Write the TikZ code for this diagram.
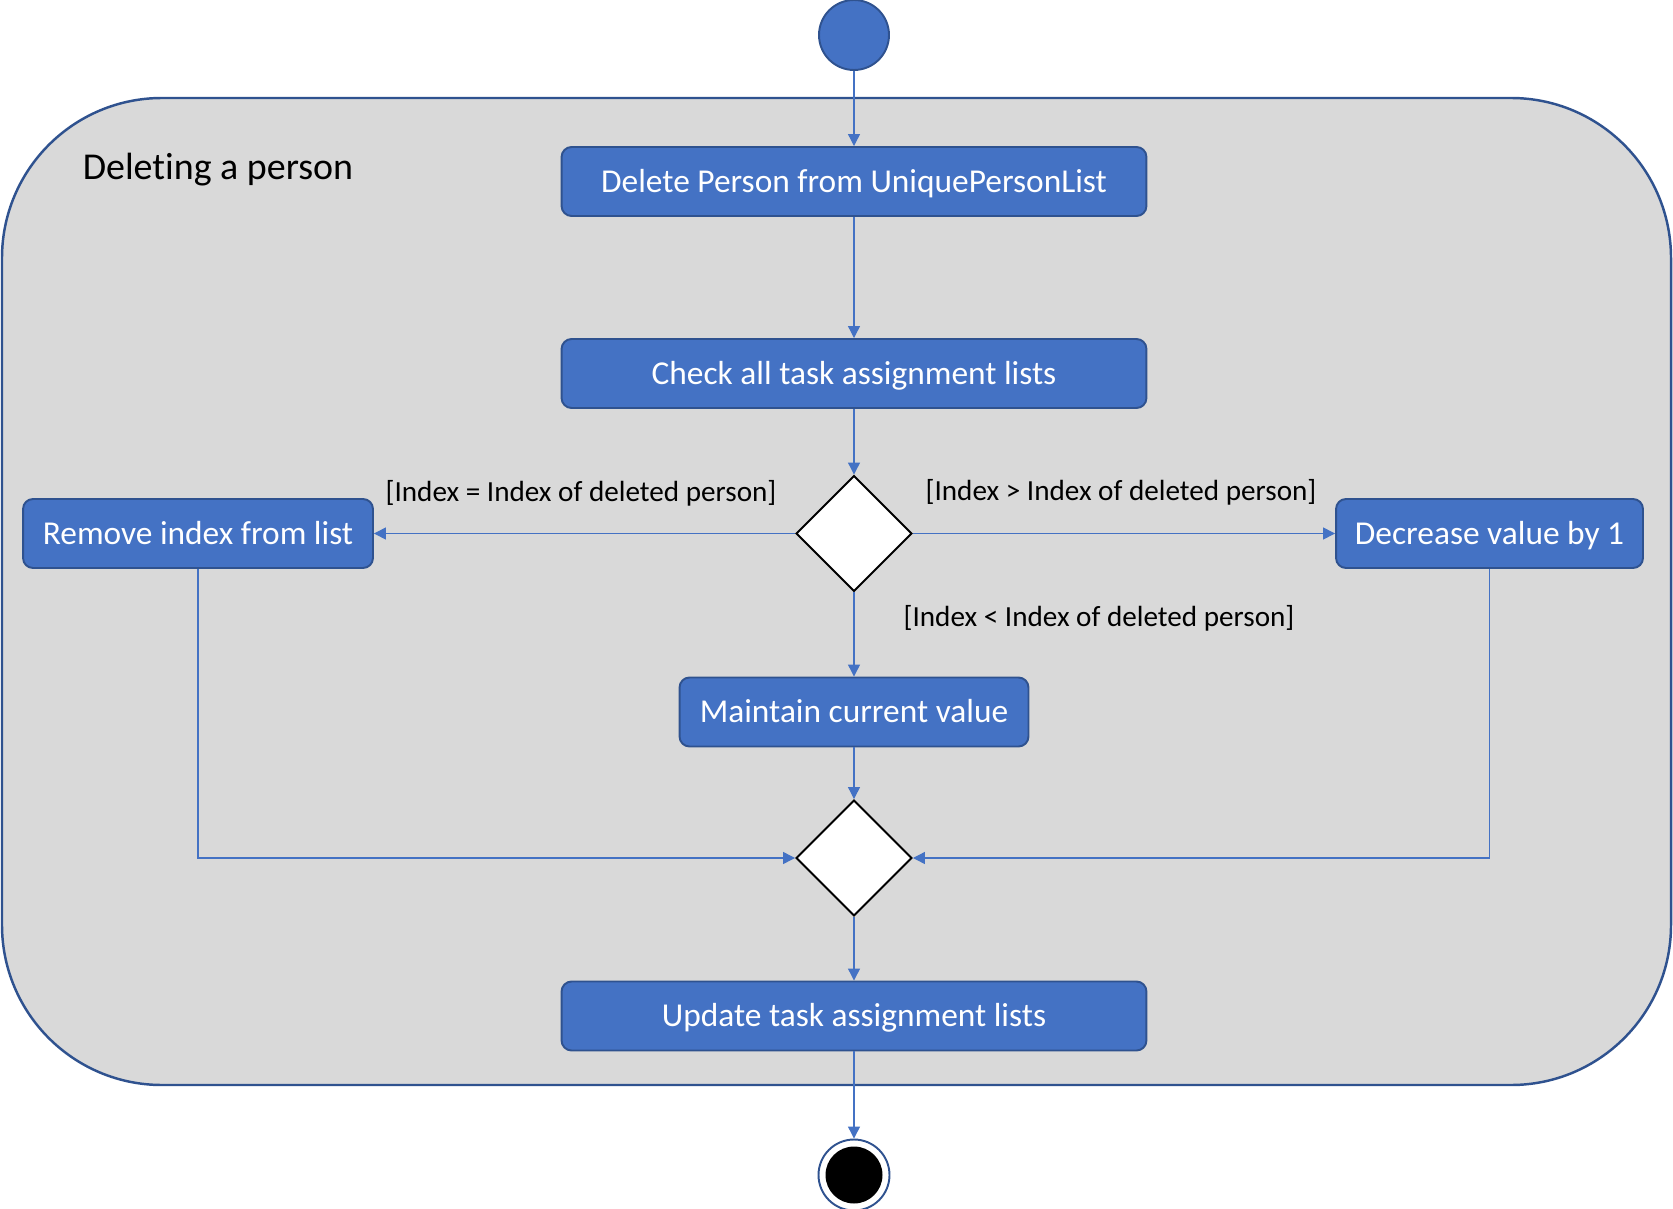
\documentclass[tikz,border=0pt]{standalone}
\usepackage{fontspec}
\setmainfont{Carlito}[Ligatures=NoCommon]
\usetikzlibrary{shapes.geometric,arrows.meta}
\definecolor{actblue}{HTML}{4472C4}
\definecolor{actedge}{HTML}{2F528F}
\definecolor{lanegray}{HTML}{D9D9D9}
\begin{document}
\begin{tikzpicture}[x=0.02cm,y=-0.02cm,
	action/.style={draw=actedge,fill=actblue,text=white,rounded corners=0.2cm,line width=1.1pt,minimum height=1.38cm,text depth=0.1em,font=\fontsize{19}{23}\selectfont},
	decision/.style={draw,diamond,fill=white,line width=1.1pt,minimum size=2.32cm,inner sep=0pt},
	flow/.style={actblue,line width=0.7pt,-{Triangle[length=6.8pt,width=6.8pt]}},
	guard/.style={font=\fontsize{16.6}{20}\selectfont}]
		\useasboundingbox (0,0) rectangle (1673,1209);
		\draw[draw=actedge,fill=lanegray,line width=1.4pt,rounded corners=3.2cm] (2,98) rectangle (1671,1085);
		\node[font=\fontsize{21.6}{26}\selectfont] (title) at (218,170) {Deleting a person};
		
		\node[circle,draw=actedge,fill=actblue,line width=1.1pt,minimum size=1.4cm] (start) at (854,35) {};
		\node[action,minimum width=11.7cm] (delete) at (854,181.5) {Delete Person from UniquePersonList};
		\node[action,minimum width=11.7cm] (check) at (854,373.5) {Check all task assignment lists};
		\node[decision] (split) at (854,533.5) {};
		\node[action,minimum width=7cm] (remove) at (198,533.5) {Remove index from list};
		\node[action,minimum width=6.14cm] (decrease) at (1489.5,533.5) {Decrease value by 1};
		\node[action,minimum width=6.98cm] (maintain) at (854,712) {Maintain current value};
		\node[decision] (merge) at (854,858) {};
		\node[action,minimum width=11.7cm] (update) at (854,1016) {Update task assignment lists};
		\node[circle,draw=actedge,line width=1.1pt,minimum size=1.42cm] (stop) at (854,1175) {};
		\node[circle,fill=black,minimum size=1.14cm] (stopdot) at (stop) {};
		
		\node[guard] (eqlabel) at (581,493) {[Index = Index of deleted person]};
		\node[guard] (gtlabel) at (1121,492) {[Index > Index of deleted person]};
		\node[guard] (ltlabel) at (1099,618) {[Index < Index of deleted person]};
		
		\draw[flow] (start) -- (delete);
		\draw[flow] (delete) -- (check);
		\draw[flow] (check) -- (split);
		\draw[flow] (split) -- (remove);
		\draw[flow] (split) -- (decrease);
		\draw[flow] (split) -- (maintain);
		\draw[flow] (maintain) -- (merge);
		\draw[flow] (remove) |- (merge);
		\draw[flow] (decrease) |- (merge);
		\draw[flow] (merge) -- (update);
		\draw[flow] (update) -- (stop);
\end{tikzpicture}
\end{document}
